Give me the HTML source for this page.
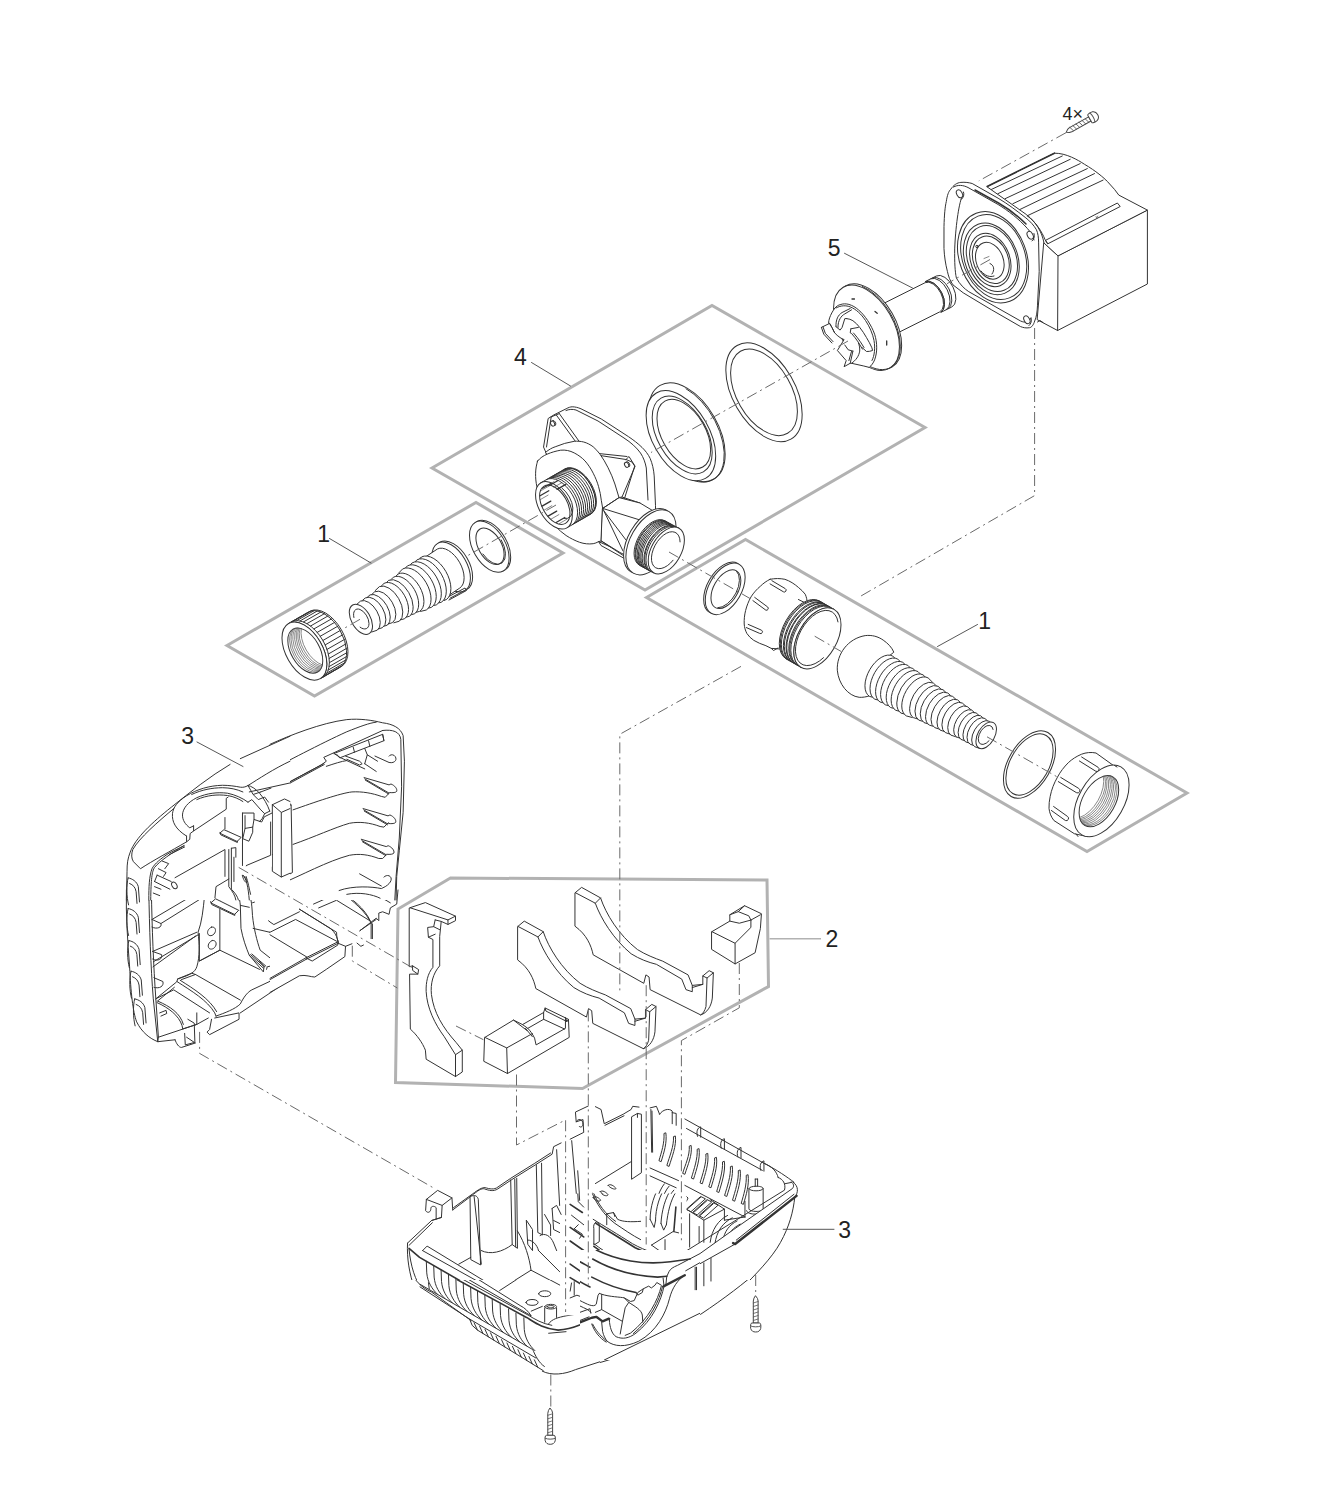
<!DOCTYPE html>
<html><head><meta charset="utf-8"><title>Exploded view</title>
<style>
html,body{margin:0;padding:0;background:#fff}
svg{display:block}
text{font-family:"Liberation Sans",sans-serif;fill:#222}
.k{fill:none;stroke:#333;stroke-width:1;stroke-linecap:round;stroke-linejoin:round}
.kf{fill:#fff;stroke:#333;stroke-width:1;stroke-linecap:round;stroke-linejoin:round}
.t{fill:none;stroke:#555;stroke-width:.7;stroke-linecap:round;stroke-linejoin:round}
.g{fill:none;stroke:#b2b2b2;stroke-width:3;stroke-linejoin:miter}
.d{fill:none;stroke:#6a6a6a;stroke-width:1;stroke-dasharray:11 4 2 4}
.w{fill:#fff;stroke:none}
</style></head><body>
<svg width="1328" height="1509" viewBox="0 0 1328 1509">
<rect class="w" width="1328" height="1509"/>
<!-- group frames -->
<g class="g">
<path d="M432 468 L712 305.5 L925 427.5 L645 590 Z"/>
<path d="M227 645.5 L476 502.5 L563 553 L314.5 696 Z"/>
<path d="M646.5 597.5 L745.5 539.5 L1187 793 L1087 851.5 Z"/>
<path d="M450.5 878 L767 880 L768.5 986.5 L582.5 1088.5 L395.5 1082.5 L398 909 Z"/>
</g>

<!-- motor block -->
<g id="motor">
<!-- box part -->
<path class="kf" d="M1044 243 L1058 255.9 L1147.4 210.1 L1147.4 284 L1057.6 330.5 L1037.5 319.8 Z"/>
<path class="k" d="M1058 255.9 L1057.6 330.5"/>
<path class="t" d="M1061.6 252.3 L1140.3 212.3"/>
<!-- ribbed cylinder top -->
<path class="kf" d="M987.2 186.5 L1054.4 153.2 C1066 153 1078 160 1084.5 164.3 C1096 171 1104 178 1107.4 181.5 L1114.5 189.4 L1118.8 195.1 L1147.4 210.1 L1058 255.9 L1044 243 C1042 232 1036 222 1027 215 Z"/>
<path class="k" style="stroke-width:1.6" d="M987.2 186.5 L1054.4 153.2"/>
<path class="k" d="M991.5 189.4 L1062.3 156 M997.9 193.7 L1070.2 159.3 M1005.1 198.7 L1080.2 163.6 M1012.9 203.7 L1087.3 168.6 M1020.1 209.4 L1094.5 173.6 M1027.2 215.8 L1103.1 180.1"/>
<path class="k" d="M1027.2 215.8 C1036 222 1042 232 1045 239.5 L1047.6 243.5"/>
<path class="k" d="M1045.8 240.2 L1117.4 203 L1120.2 206.5 L1048 243.7 Z"/>
<path class="t" d="M1096 216.5 l.8 2 l1 -2.4"/>
<!-- flange -->
<path class="kf" d="M944 226.3 C944.3 215 945 207 946.3 201.5 C947.3 195 948.5 191.5 950.8 189.2 C953.5 185.2 957 182.6 960.9 182.4 C965 182 969 182.6 972.2 183.5 L998.1 198.2 C1008 204 1017 211 1025.1 217.3 C1030 221 1034 225.5 1036.4 229.7 C1038 233 1038.6 238 1038.6 242.1 L1039.2 271.4 L1037.5 305.2 C1037.2 312 1036.5 317 1034.7 321 C1033.5 325 1031.5 327.5 1029.6 327.7 C1026 328.3 1023 327.6 1020.6 326.6 L991.3 309.7 L963.2 292.8 L953 284.9 C950 281 948.4 276 947.4 271.4 C945.5 264 944.3 256 944 248.9 Z"/>
<path class="k" d="M962 196.5 C958.5 205 955.5 228 954.7 248.9 C954.5 262 955 272 956.4 278.1 C960 284.5 964 288.5 968.8 291.7 L1020.6 321 C1025 323 1029 322.5 1031 318"/>
<path class="k" d="M953.5 187 C958 184.5 963 185 968 187.5 L998.1 204.5 C1008 210.5 1019 219 1027.4 228.5 C1031 232.5 1033 236 1034 240"/>
<path class="k" style="stroke-width:1.5" d="M975 190 L998.5 203 C1008 208.5 1018 216 1026 224"/>
<!-- screw holes -->
<g class="kf">
<ellipse cx="959.5" cy="193.8" rx="2.7" ry="4.2" transform="rotate(-30 959.5 193.8)"/>
<ellipse cx="1030.2" cy="235.3" rx="2.7" ry="4.2" transform="rotate(-30 1030.2 235.3)"/>
<ellipse cx="1026.9" cy="319.8" rx="2.7" ry="4.2" transform="rotate(-30 1026.9 319.8)"/>
</g>
<path class="k" d="M963.5 192 C964.5 194.5 963.5 197.5 961.5 199.3 M1034 233.5 C1035 236.5 1034 239.500 1032 241 M1031 318 C1032 321 1031 324 1029 325.6"/>
<!-- concentric rings -->
<g class="k">
<ellipse cx="993" cy="257.3" rx="33.4" ry="47.1" transform="rotate(-21 993 257.3)"/>
<ellipse cx="993.7" cy="257" rx="31.1" ry="43.8" transform="rotate(-21 993.7 257)"/>
<ellipse cx="991.3" cy="258.8" rx="26.3" ry="37.0" transform="rotate(-21 991.3 258.8)"/>
<ellipse cx="991.9" cy="258.6" rx="24.1" ry="34.0" transform="rotate(-21 991.9 258.6)"/>
<ellipse cx="990.3" cy="260" rx="19.5" ry="27.5" transform="rotate(-21 990.3 260)"/>
<ellipse cx="990.8" cy="259.8" rx="17.4" ry="24.5" transform="rotate(-21 990.8 259.8)"/>
<ellipse cx="989.8" cy="260.8" rx="13.5" ry="19.0" transform="rotate(-21 989.8 260.8)"/>
</g>
<path class="k" d="M981 271 C985 276 990 277.5 994 276 M990 263.5 C994 265 995 270 992 274"/>
<circle cx="977" cy="246.500" r="1.2" class="k"/>
<path class="t" d="M984 258.500 L989 256.500"/>
<path class="k" d="M1037.500 322 L1040 320.5 L1043 322.5"/>
</g>

<g id="oring4">
<ellipse class="kf" cx="764.0" cy="392.3" rx="54.0" ry="31.2" transform="rotate(60.1 764.0 392.3)"/>
<ellipse class="kf" cx="764.0" cy="392.3" rx="47.3" ry="27.3" transform="rotate(60.1 764.0 392.3)"/>
</g>
<g id="seal">
<ellipse class="kf" cx="687.0" cy="432.2" rx="54.0" ry="31.2" transform="rotate(60.1 687.0 432.2)"/>
<path class="k" d="M674.1 467.9A54.0 31.2 60.1 1 0 686.0 388.7"/>
<ellipse class="kf" cx="680.9" cy="435.7" rx="49.3" ry="28.4" transform="rotate(60.1 680.9 435.7)"/>
<ellipse class="k" cx="682.2" cy="435.0" rx="42.5" ry="24.5" transform="rotate(60.1 682.2 435.0)"/>
<ellipse class="k" cx="683.8" cy="434.1" rx="38.0" ry="21.9" transform="rotate(60.1 683.8 434.1)"/>
</g>
<g id="rotor">
<path class="kf" d="M866.1 312.2 L925.1 282.7A16.3 9.4 63.4 0 1 939.7 311.9L880.7 341.4A16.3 9.4 63.4 0 0 866.1 312.2Z"/>
<path class="kf" d="M925.6 281.4 L936.3 276.0A17.3 10.0 63.4 0 1 951.8 307.0L941.0 312.3A17.3 10.0 63.4 0 0 925.6 281.4Z"/>
<path class="k" d="M941.0 312.3A17.3 10.0 63.4 0 0 925.6 281.4"/>
<path class="k" d="M946.4 309.6A17.3 10.0 63.4 0 0 930.9 278.7"/>
<path class="k" d="M948.2 308.7A17.3 10.0 63.4 0 0 932.7 277.8"/>
<path class="k" d="M890.3 340.4A24.0 13.8 60.1 0 0 881.9 308.6"/>
<path class="k" d="M890.1 337.2A21.0 12.1 60.1 0 0 882.8 309.4"/>
<ellipse class="kf" cx="868.7" cy="326.5" rx="46.7" ry="26.9" transform="rotate(60.1 868.7 326.5)"/>
<ellipse class="kf" cx="866.5" cy="327.7" rx="46.7" ry="26.9" transform="rotate(60.1 866.5 327.7)"/>
<path class="k" d="M862.3 361.8A46.7 26.9 60.1 1 0 862.4 286.5"/>
<path class="k" d="M852 299 l2.5 0 M875 311.5 l2.2 1.8 M886.7 341 l0 4" style="stroke-width:1.3"/>
<path class="kf" d="M834.6 308.5 C836.5 306 838.5 305 840.1 304.7 C843 303.6 846 303.6 848.9 304.4 C852.5 305.5 855.5 307.3 858.4 309.8 C862 312.800 865 316.5 867.8 320.7 C870.5 325 873 329.500 874.6 334.2 C876 338.5 876.7 343 876.7 347.8 C876.7 352 876 356 874.6 359.9 C873.3 363 871.5 365.5 869.2 367.4 L863.8 366 L851.6 363.3 L850.2 363.3 L844.1 366.7 L846.2 360.6 L837.4 350.5 L844.1 339.6 C842.500 339 841.200 338.3 840.1 337.6 C838 336.2 836.2 334.6 834.6 332.8 L831.9 327.4 L829.6 323.4 L828.6 323.4 C828.600 321.5 829 319.6 829.6 317.9 C830.8 314.500 832.5 311.300 834.6 308.500Z"/>
<path class="k" d="M836.4 307.8 C841 305.3 846 305.2 850.5 307 C856 309.3 861 313.8 865.500 320.5 C869.5 326.5 872.7 333.5 874 340.5 C875.3 348 874.6 355.5 872 360.5"/>
<path class="k" d="M821.4 327.4 L829.6 323.4 L831.9 327.4 L834.6 332.8 M821.4 327.4 L823.8 334.2 L831.9 343 M823 326.8 L825.3 333.3 L833 341.6"/>
<path class="k" d="M836 326.7 C835.8 323.5 836.3 320.5 837.4 317.9 C838.5 315.500 840 313.800 842.1 312.5 L850.2 308.5 M838 327.4 C837.8 324 838.800 320.800 840.1 318.6 C841.200 316.500 842.800 315 844.8 313.9 L851.6 309.8 M836 326.700 L840.100 330.100 L842.100 327.400 L844.800 318.600 L846.800 318.600"/>
<path class="k" d="M846.8 318.6 C849 318.800 851 319.500 852.9 320.7 C855.5 322.500 857.7 324.8 859.7 327.4 C862.2 330.5 864.5 334 866.5 337.6 C868.5 341 870.500 344.500 871.9 347.8 L872.6 350.5 C870.500 351.3 868.5 351.600 866.5 351.5 L862.4 347.8"/>
<path class="k" d="M850.9 328.8 L858.4 327.4 M850.9 328.8 L850.2 332.800 L851.6 333.5 C854 336.300 856.300 339.2 858.4 342.3 L862.4 349.1 M853.5 333 C856 335.800 858.300 338.700 860.300 341.700 L864 347.5"/>
<path class="k" d="M858.4 343 C859.5 345.500 859.900 348.300 859.7 351.1 C859.300 353.500 858.400 355.800 857 357.9 C855.5 360 853.700 361.800 851.6 363.3 M852.9 351.1 L850.2 363.3 M844.8 345 L848.2 349.8 L852.9 351.1 M851.500 351.500 L848.9 360.6"/>
</g>
<g id="pump">
<path class="kf" d="M548.5 418.3 L553.9 414.9 L566.1 408.8 C568.5 407.500 570.500 406.8 572.2 406.8 C575 406.8 578 407.500 581 408.8 L601.3 419 L628.4 436.6 C633.500 440 638 443.500 642 447.4 C645.500 450.800 648.2 454.400 650.1 458.3 C652.300 463.500 653.700 469.500 654.2 475.9 L655.5 505.7 L655.500 520 L620 545 L598.6 541.6 L545.8 452.2 L543.7 447.4 Z"/>
<path class="k" d="M551.2 416.9 L546.5 447 M559.3 413.6 L579.6 442 M556.300 415 L575.500 441.500 M551.200 416.900 L559.300 413.600"/>
<path class="k" d="M566 410.5 C569 409.2 572.500 409 576 410 L598 421 L624 438 C631 442.500 636.500 447.500 640.500 453 C643.500 457.500 645.300 462.500 646.300 468 L648 500"/>
<path class="k" d="M600 455.500 L626 459.5 L632 462 L635 466.5 L622 497 M626 459.500 L629 456.5 L634.800 465.800 L624.500 498.500 M619 497.6 L622 497 L640 503 M600 455.500 L598.500 453.500 L627 456.500"/>
<ellipse class="kf" cx="552.6" cy="423.6" rx="2.7" ry="1.9" transform="rotate(60.1 552.6 423.6)"/>
<path class="k" d="M555.5 425.3A3.0 2.2 60.1 0 0 552.7 420.4"/>
<ellipse class="kf" cx="626.6" cy="464.8" rx="2.7" ry="1.9" transform="rotate(60.1 626.6 464.8)"/>
<path class="k" d="M629.5 466.5A3.0 2.2 60.1 0 0 626.7 461.6"/>
<path class="kf" d="M545.8 452.2 C549 449.500 552 447.800 555.2 446.8 L564.7 443.4 L574.2 441.3 C577.500 441 580.700 441.300 583.7 442 C587.300 443 590.400 444.700 593.2 446.8 C595.800 449 598 451.500 600 454.2 C603 458.500 605.800 463 608.1 467.8 C610.800 473 613 478.500 614.9 484 L619 497.6 L640.500 503.500 L655 520 L640 560 L598.6 541.6 Z"/>
<path class="kf" d="M537.6 461 C540 458 543.500 455.700 547.1 454.2 C551.500 452.300 556 451 560.7 450.2 C565.300 449.700 570 450.700 574.2 452.9 C578.300 455 582 457.700 585.1 461 C588.300 464.700 591 468.800 593.2 473.2 C595.400 477.500 597.300 482 598.6 486.7 C599.900 491.200 600.800 495.700 601.3 500.3 L602.7 508.4 L601.3 541 L598.6 541.6 C596.800 542.700 595 543.400 593.2 543.7 C588.700 544.300 584.100 543.800 579.6 542.3 C574.900 540.600 570.400 538.300 566.1 535.5 C562.200 532.800 558.500 529.600 555.2 526 C552.200 522.700 549.500 519.100 547.1 515.2 C545 511.300 543.200 507.200 541.7 503 C539.700 497.700 538.100 492.300 536.9 486.7 C535.900 482.200 535.500 477.700 535.6 473.2 C535.700 469 536.400 464.900 537.6 461Z"/>
<path class="kf" d="M602.7 508.4 L619 497.6 L640 503 L655 512 L630 560 L601.3 541 Z"/>
<path class="k" d="M602.7 508.4 L640 520 L655 512 M602.7 508.4 L623 551 M604 511 L626 540 M619 497.600 L602.700 508.400"/>
<path class="k" d="M601.3 541 L620 552.500 L630 557.500 M598.6 541.6 L601 545.500 L628 560.500"/>
<path class="kf" d="M540.9 482.8 L564.3 469.3A26.0 15.0 60.1 0 1 590.3 514.4L566.9 527.8A26.0 15.0 60.1 0 0 540.9 482.8Z"/>
<path class="k" d="M572.3 524.7A26.0 15.0 60.1 0 0 546.4 479.6"/>
<path class="k" d="M574.3 523.6A26.0 15.0 60.1 0 0 548.4 478.5"/>
<path class="k" d="M576.3 522.4A26.0 15.0 60.1 0 0 550.4 477.3"/>
<path class="k" d="M578.3 521.3A26.0 15.0 60.1 0 0 552.4 476.2"/>
<path class="k" d="M580.3 520.1A26.0 15.0 60.1 0 0 554.4 475.0"/>
<path class="k" d="M582.3 519.0A26.0 15.0 60.1 0 0 556.4 473.9"/>
<path class="k" d="M584.3 517.8A26.0 15.0 60.1 0 0 558.4 472.7"/>
<path class="k" d="M586.3 516.7A26.0 15.0 60.1 0 0 560.4 471.6"/>
<path class="k" d="M588.3 515.5A26.0 15.0 60.1 0 0 562.4 470.4"/>
<path class="k" d="M590.3 514.4A26.0 15.0 60.1 0 0 564.3 469.3"/>
<path class="k" d="M591.1 513.9A26.0 15.0 60.1 0 0 565.2 468.8"/>
<ellipse class="kf" cx="553.9" cy="505.3" rx="26.0" ry="15.0" transform="rotate(60.1 553.9 505.3)"/>
<ellipse class="k" cx="554.8" cy="504.8" rx="21.5" ry="12.4" transform="rotate(60.1 554.8 504.8)"/>
<path class="k" d="M564.0 518.5A18.5 10.7 60.1 0 0 562.0 488.1"/>
<path class="k" d="M557.1 489.4 L565.8 484.4" style="stroke-width:1.3"/>
<path class="t" d="M553.9 487.3 L561.7 482.8"/>
<path class="k" d="M549.0 485.8 L557.6 480.8" style="stroke-width:1.3"/>
<path class="t" d="M546.2 486.1 L554.0 481.6"/>
<path class="k" d="M542.6 488.2 L551.3 483.2" style="stroke-width:1.3"/>
<path class="t" d="M541.1 490.6 L548.9 486.1"/>
<path class="k" d="M540.1 495.8 L548.8 490.8" style="stroke-width:1.3"/>
<path class="t" d="M540.3 499.6 L548.1 495.1"/>
<path class="k" d="M542.1 506.1 L550.8 501.1" style="stroke-width:1.3"/>
<path class="t" d="M544.0 510.2 L551.8 505.7"/>
<path class="k" d="M548.1 516.1 L556.7 511.1" style="stroke-width:1.3"/>
<path class="t" d="M551.1 519.1 L558.9 514.6"/>
<path class="k" d="M556.1 522.5 L564.8 517.5" style="stroke-width:1.3"/>
<path class="t" d="M559.3 523.6 L567.1 519.1"/>
</g>
<g id="washerL">
<ellipse class="kf" cx="490.9" cy="545.8" rx="28.0" ry="16.2" transform="rotate(60.1 490.9 545.8)"/>
<ellipse class="kf" cx="489.3" cy="546.7" rx="28.0" ry="16.2" transform="rotate(60.1 489.3 546.7)"/>
<ellipse class="k" cx="490.0" cy="546.3" rx="20.0" ry="11.5" transform="rotate(60.1 490.0 546.3)"/>
<path class="k" d="M482.9 554.0A20.0 11.5 60.1 0 0 501.2 539.9"/>
</g>
<g id="tailL">
<ellipse class="kf" cx="453.4" cy="565.8" rx="27.2" ry="15.7" transform="rotate(60.1 453.4 565.8)"/>
<ellipse class="kf" cx="451.2" cy="567.0" rx="27.2" ry="15.7" transform="rotate(60.1 451.2 567.0)"/>
<path class="kf" d="M422.7 558.8 L437.4 549.0A22.5 13.0 60.1 0 1 459.8 588.0L445.1 597.8A22.5 13.0 60.1 0 0 422.7 558.8Z"/>
<path class="k" d="M447 597.500 L465 588 L466.500 590.500 L449 600 M450 598.200 L464 590.800"/>
<path class="k" d="M444.4 600.5A24.5 14.1 60.1 0 0 420.0 558.1"/>
<path class="kf" d="M417.6 561.2 L421.6 556.9A24.7 14.3 60.1 0 1 446.2 599.7 L440.5 601.0"/>
<path class="kf" d="M412.9 564.2 L416.9 559.9A24.4 14.1 60.1 0 1 441.2 602.3 L435.5 603.6"/>
<path class="kf" d="M408.1 567.2 L412.1 562.9A24.2 14.0 60.1 0 1 436.3 604.9 L430.6 606.2"/>
<path class="kf" d="M403.4 570.1 L407.4 565.9A23.9 13.8 60.1 0 1 431.3 607.4 L425.6 608.8"/>
<path class="kf" d="M398.6 573.1 L402.7 568.9A23.7 13.7 60.1 0 1 426.3 610.0 L420.6 611.4"/>
<path class="kf" d="M393.9 578.2 L398.0 574.1A21.5 12.4 60.1 0 1 419.5 611.4 L413.9 612.9"/>
<path class="kf" d="M389.3 581.3 L393.4 577.2A21.1 12.2 60.1 0 1 414.4 613.8 L408.8 615.4"/>
<path class="kf" d="M384.6 584.4 L388.7 580.3A20.8 12.0 60.1 0 1 409.4 616.3 L403.8 617.8"/>
<path class="kf" d="M379.9 587.5 L384.0 583.4A20.4 11.8 60.1 0 1 404.3 618.8 L398.8 620.3"/>
<path class="kf" d="M375.2 590.6 L379.4 586.6A20.0 11.5 60.1 0 1 399.3 621.2 L393.8 622.8"/>
<path class="kf" d="M370.4 595.7 L374.7 591.8A17.8 10.3 60.1 0 1 392.5 622.6 L387.0 624.4"/>
<path class="kf" d="M365.7 598.7 L370.0 594.9A17.5 10.1 60.1 0 1 387.4 625.1 L381.9 626.9"/>
<path class="kf" d="M360.9 601.8 L365.2 598.0A17.1 9.9 60.1 0 1 382.3 627.7 L376.8 629.5"/>
<path class="kf" d="M356.2 604.9 L360.5 601.1A16.8 9.7 60.1 0 1 377.2 630.2 L371.8 632.0"/>
<ellipse class="kf" cx="360.9" cy="619.3" rx="16.5" ry="9.5" transform="rotate(60.1 360.9 619.3)"/>
<path class="k" d="M360.1 627.2A11.0 6.3 60.1 1 0 353.9 617.5"/>
</g>
<g id="nutL">
<path class="kf" d="M288.5 623.5 L310.2 611.1A31.8 18.3 60.1 0 1 341.9 666.2L320.3 678.7A31.8 18.3 60.1 0 0 288.5 623.5Z"/>
<path class="k" d="M342.5 665.4A31.8 18.3 60.1 0 0 311.2 611.0"/>
<path class="k" d="M322.9 677.2 L340.2 667.2"/>
<path class="k" d="M325.1 675.4 L342.5 665.4"/>
<path class="k" d="M327.0 673.0 L344.3 663.0"/>
<path class="k" d="M328.3 670.0 L345.7 660.0"/>
<path class="k" d="M329.2 666.5 L346.5 656.6"/>
<path class="k" d="M329.5 662.6 L346.8 652.7"/>
<path class="k" d="M329.2 658.4 L346.5 648.4"/>
<path class="k" d="M328.4 654.0 L345.7 644.0"/>
<path class="k" d="M327.0 649.4 L344.4 639.5"/>
<path class="k" d="M325.2 644.9 L342.5 634.9"/>
<path class="k" d="M322.9 640.5 L340.2 630.5"/>
<path class="k" d="M320.2 636.3 L337.6 626.3"/>
<path class="k" d="M317.2 632.4 L334.6 622.4"/>
<path class="k" d="M314.0 628.9 L331.3 619.0"/>
<path class="k" d="M310.6 626.0 L327.9 616.0"/>
<path class="k" d="M307.0 623.6 L324.4 613.7"/>
<path class="k" d="M303.5 621.9 L320.9 612.0"/>
<path class="k" d="M300.1 620.9 L317.4 610.9"/>
<path class="k" d="M296.8 620.6 L314.2 610.6"/>
<path class="k" d="M293.8 620.9 L311.2 611.0"/>
<path class="k" d="M291.1 622.0 L308.5 612.1"/>
<ellipse class="kf" cx="304.4" cy="651.1" rx="31.8" ry="18.3" transform="rotate(60.1 304.4 651.1)"/>
<path class="k" d="M322.9 677.2A31.8 18.3 60.1 0 0 291.1 622.0"/>
<ellipse class="kf" cx="305.3" cy="650.6" rx="24.7" ry="14.3" transform="rotate(60.1 305.3 650.6)"/>
<path class="t" d="M318.4 671.5A24.7 14.3 60.1 0 1 293.8 628.8"/>
<path class="t" d="M319.1 670.9A24.7 14.3 60.1 0 1 294.7 628.4"/>
<path class="t" d="M319.8 670.2A24.7 14.3 60.1 0 1 295.7 628.2"/>
<path class="t" d="M320.4 669.3A24.7 14.3 60.1 0 1 296.7 628.1"/>
<path class="t" d="M321.0 668.4A24.7 14.3 60.1 0 1 297.8 628.0"/>
<path class="t" d="M321.5 667.4A24.7 14.3 60.1 0 1 298.9 628.1"/>
<path class="t" d="M321.9 666.2A24.7 14.3 60.1 0 1 300.1 628.3"/>
<path class="t" d="M322.3 664.9A24.7 14.3 60.1 0 1 301.4 628.7"/>
</g>

<g id="outlet">
<ellipse class="kf" cx="648.7" cy="541.0" rx="35.6" ry="20.5" transform="rotate(119.9 648.7 541.0)"/>
<ellipse class="kf" cx="651.0" cy="542.3" rx="35.6" ry="20.5" transform="rotate(119.9 651.0 542.3)"/>
<path class="kf" d="M679.0 528.3 L664.9 520.8A25.6 14.8 119.9 0 0 639.4 565.2L653.6 572.7A25.6 14.8 119.9 0 1 679.0 528.3Z"/>
<path class="k" d="M639.9 565.4A25.6 14.8 119.9 0 1 665.3 521.0"/>
<path class="k" d="M641.1 566.2A25.6 14.8 119.9 0 1 666.6 521.8"/>
<path class="k" d="M642.4 566.9A25.6 14.8 119.9 0 1 667.9 522.5"/>
<path class="k" d="M643.6 567.6A25.6 14.8 119.9 0 1 669.1 523.2"/>
<path class="k" d="M644.9 568.3A25.6 14.8 119.9 0 1 670.4 523.9"/>
<path class="k" d="M646.1 569.1A25.6 14.8 119.9 0 1 671.6 524.6"/>
<path class="k" d="M647.4 569.8A25.6 14.8 119.9 0 1 672.9 525.4"/>
<path class="k" d="M648.7 570.5A25.6 14.8 119.9 0 1 674.1 526.1"/>
<path class="k" d="M649.9 571.2A25.6 14.8 119.9 0 1 675.4 526.8"/>
<path class="k" d="M651.2 571.9A25.6 14.8 119.9 0 1 676.7 527.5"/>
<ellipse class="kf" cx="666.3" cy="550.5" rx="25.6" ry="14.8" transform="rotate(119.9 666.3 550.5)"/>
<path class="k" d="M673.1 560.2A20.3 11.7 119.9 1 1 680.1 541.9"/>
</g>
<g id="washerR">
<ellipse class="kf" cx="723.6" cy="587.9" rx="28.2" ry="16.3" transform="rotate(119.9 723.6 587.9)"/>
<ellipse class="kf" cx="725.2" cy="588.8" rx="28.2" ry="16.3" transform="rotate(119.9 725.2 588.8)"/>
<ellipse class="k" cx="725.9" cy="589.2" rx="21.2" ry="12.2" transform="rotate(119.9 725.9 589.2)"/>
<path class="k" d="M717.7 607.8A21.2 12.2 119.9 0 0 736.6 571.2"/>
</g>
<g id="union">
<path class="kf" d="M770 579.3 C775 578.300 780 578.300 784.9 579.3 C790 581 794.5 584 798.4 587.4 C801 589.5 803.3 591.800 805.2 594.2 C806.5 597 807.2 600.300 807.2 603.7 L803 640 L782.2 649.1 L771.3 648.4 L765.9 645.7 C761.5 644.300 757.500 642.500 753.7 640.3 C751 638.500 748.700 636.200 746.9 633.5 C745.300 630.500 744.400 627.300 744.2 624 C744 619.500 744.5 615 745.6 610.5 C746.800 605.700 748.600 601.200 751 596.9 C753.600 592.800 756.800 589.200 760.5 586.1 C763.400 583.300 766.500 581 770 579.300Z"/>
<path class="k" d="M798.4 599.5 L806.500 603.500 M771.3 648.4 L773.500 650.500 L778 648"/>
<path class="k" d="M771.9 580.7 L785.2 588.6 A1.8 1.8 0 0 1 783.4 591.8 L770.1 583.9"/>
<path class="k" d="M754.7 597.4 L767.7 607.0 A1.9 1.9 0 0 1 765.9 610.2 L752.9 600.6"/>
<path class="k" d="M748.2 624.4 L761.5 630.2 A1.8 1.8 0 0 1 759.7 633.4 L746.4 627.6"/>
<path class="kf" d="M834.0 609.3 L819.3 600.9A33.4 19.3 119.9 0 0 786.0 658.8L800.8 667.3A33.4 19.3 119.9 0 1 834.0 609.3Z"/>
<path class="k" d="M786.9 659.3A33.4 19.3 119.9 0 1 820.2 601.4"/>
<path class="k" d="M788.2 660.1A33.4 19.3 119.9 0 1 821.5 602.1"/>
<path class="k" d="M789.6 660.8A33.4 19.3 119.9 0 1 822.8 602.9"/>
<path class="k" d="M790.9 661.6A33.4 19.3 119.9 0 1 824.2 603.7"/>
<path class="k" d="M792.3 662.4A33.4 19.3 119.9 0 1 825.5 604.5"/>
<path class="k" d="M793.6 663.2A33.4 19.3 119.9 0 1 826.9 605.2"/>
<path class="k" d="M795.0 663.9A33.4 19.3 119.9 0 1 828.2 606.0"/>
<path class="k" d="M796.3 664.7A33.4 19.3 119.9 0 1 829.6 606.8"/>
<path class="k" d="M797.7 665.5A33.4 19.3 119.9 0 1 830.9 607.5"/>
<ellipse class="kf" cx="817.4" cy="638.3" rx="33.4" ry="19.3" transform="rotate(119.9 817.4 638.3)"/>
<path class="k" d="M823.5 657.7A30.3 17.5 119.9 1 1 838.0 621.9"/>
</g>
<g id="tailR">
<path class="kf" d="M869.7 695.8 C866 697 862.5 697.5 859.2 697.3 C848 696 838.5 684 837.3 670.2 C836.5 654 848 638.5 865.2 635.6 C872 634.8 878 636.5 883.2 640.1 C888 643.5 892 647.5 893.8 652.2 L889.3 655.9 L880 677 Z"/>
<path class="kf" d="M897.0 660.4 L892.7 656.0A23.3 13.4 119.9 0 0 869.5 696.4 L875.5 698.0"/>
<path class="kf" d="M902.1 663.5 L897.8 659.1A23.1 13.3 119.9 0 0 874.8 699.2 L880.7 700.7"/>
<path class="kf" d="M907.2 666.6 L902.8 662.3A22.9 13.2 119.9 0 0 880.0 702.0 L886.0 703.5"/>
<path class="kf" d="M912.2 669.7 L907.9 665.4A22.7 13.1 119.9 0 0 885.3 704.8 L891.2 706.3"/>
<path class="kf" d="M917.3 672.8 L912.9 668.5A22.5 13.0 119.9 0 0 890.5 707.5 L896.5 709.1"/>
<path class="kf" d="M922.4 676.0 L918.0 671.6A22.3 12.9 119.9 0 0 895.8 710.3 L901.7 711.9"/>
<path class="kf" d="M927.4 679.1 L923.0 674.8A22.1 12.8 119.9 0 0 901.0 713.1 L907.0 714.7"/>
<path class="kf" d="M932.5 682.2 L928.1 677.9A21.9 12.6 119.9 0 0 906.3 715.9 L912.2 717.5"/>
<path class="kf" d="M937.7 687.1 L933.3 683.0A20.0 11.5 119.9 0 0 913.3 717.6 L919.1 719.4"/>
<path class="kf" d="M942.5 690.4 L938.1 686.3A19.5 11.3 119.9 0 0 918.7 720.1 L924.5 721.9"/>
<path class="kf" d="M947.4 693.8 L943.0 689.7A19.0 11.0 119.9 0 0 924.0 722.6 L929.8 724.4"/>
<path class="kf" d="M952.3 697.1 L947.8 693.0A18.5 10.7 119.9 0 0 929.4 725.1 L935.1 726.9"/>
<path class="kf" d="M957.1 700.4 L952.7 696.4A18.0 10.4 119.9 0 0 934.7 727.6 L940.5 729.5"/>
<path class="kf" d="M962.0 703.8 L957.5 699.8A17.5 10.1 119.9 0 0 940.1 730.1 L945.8 732.0"/>
<path class="kf" d="M966.9 707.1 L962.4 703.1A17.0 9.8 119.9 0 0 945.4 732.6 L951.1 734.5"/>
<path class="kf" d="M971.7 710.4 L967.2 706.5A16.5 9.5 119.9 0 0 950.8 735.1 L956.5 737.0"/>
<path class="kf" d="M975.7 713.6 L971.7 710.1A15.5 8.9 119.9 0 0 956.3 736.9 L961.3 738.6"/>
<path class="kf" d="M980.1 716.4 L976.1 712.9A15.3 8.8 119.9 0 0 960.9 739.4 L965.9 741.1"/>
<path class="kf" d="M984.5 719.2 L980.5 715.7A15.1 8.7 119.9 0 0 965.5 741.8 L970.5 743.5"/>
<path class="kf" d="M988.9 722.0 L984.9 718.5A14.8 8.6 119.9 0 0 970.1 744.2 L975.1 746.0"/>
<path class="kf" d="M993.3 724.8 L989.3 721.3A14.6 8.4 119.9 0 0 974.7 746.7 L979.7 748.4"/>
<ellipse class="kf" cx="986.2" cy="735.3" rx="14.6" ry="8.4" transform="rotate(119.9 986.2 735.3)"/>
<path class="k" d="M989.1 740.7A10.5 6.1 119.9 1 1 993.1 729.5"/>
</g>
<g id="oringR">
<ellipse class="kf" cx="1029.5" cy="764.5" rx="36.9" ry="21.3" transform="rotate(119.9 1029.5 764.5)"/>
<ellipse class="kf" cx="1029.5" cy="764.5" rx="33.5" ry="19.3" transform="rotate(119.9 1029.5 764.5)"/>
</g>
<g id="nutR">
<path class="kf" d="M1121.3 771.1 L1096 753 C1091 752 1086 752.500 1081.6 754.2 C1076.500 756.300 1072 759.200 1068.3 762.7 C1064 767 1060.300 771.800 1057.5 777.1 C1054 783.200 1051.500 789.600 1050.2 796.4 C1049.300 800.400 1048.900 804.400 1049 808.4 C1049.500 813 1051.200 817 1053.9 820.5 L1074.3 833.7 L1087.6 836.7 L1110 810 L1118 785 Z"/>
<path class="k" d="M1081.6 757.0 L1098.1 767.3 A2.3 2.3 0 0 1 1095.9 771.3 L1079.4 761.0"/>
<path class="k" d="M1060.7 777.4 L1078.7 788.4 A2.4 2.4 0 0 1 1076.3 792.6 L1058.3 781.6"/>
<path class="k" d="M1053.6 806.5 L1067.6 816.5 A2.3 2.3 0 0 1 1065.4 820.5 L1051.4 810.5"/>
<ellipse class="kf" cx="1101.4" cy="800.9" rx="39.2" ry="22.6" transform="rotate(119.9 1101.4 800.9)"/>
<path class="k" d="M1114.500 765.500 l2.500 1.500 M1076 834 l2 2.500"/>
<ellipse class="kf" cx="1098.9" cy="801.2" rx="28.0" ry="16.2" transform="rotate(119.9 1098.9 801.2)"/>
<path class="t" d="M1084.2 825.0A28.0 16.2 119.9 0 0 1112.0 776.5"/>
<path class="t" d="M1083.4 824.4A28.0 16.2 119.9 0 0 1111.1 776.1"/>
<path class="t" d="M1082.7 823.7A28.0 16.2 119.9 0 0 1110.1 775.9"/>
<path class="t" d="M1082.1 822.9A28.0 16.2 119.9 0 0 1109.2 775.7"/>
<path class="t" d="M1081.5 822.0A28.0 16.2 119.9 0 0 1108.1 775.6"/>
<path class="t" d="M1080.9 821.1A28.0 16.2 119.9 0 0 1107.0 775.6"/>
<path class="t" d="M1080.4 820.0A28.0 16.2 119.9 0 0 1105.8 775.8"/>
<path class="t" d="M1080.0 818.8A28.0 16.2 119.9 0 0 1104.6 776.0"/>
<path class="t" d="M1079.7 817.5A28.0 16.2 119.9 0 0 1103.3 776.3"/>
</g>

<g id="housingL">
<g transform="translate(120 890) scale(0.12801)">
<path class="w" vector-effect="non-scaling-stroke" d="M50 0 L1328 0 L1328 640 L930 960 L930 1010 L700 1130 L590 1190 L480 1230 L430 1170 L300 1185 C200 1140 120 1050 100 900 L60 500 Z"/>
<path class="k" vector-effect="non-scaling-stroke" d="M50 0 C45 200 60 400 75 600 C85 800 100 950 130 1030 C170 1110 230 1160 295 1185"/>
<path class="k" vector-effect="non-scaling-stroke" d="M225 0 C230 300 240 600 260 850 L295 1185"/>
<path class="k" vector-effect="non-scaling-stroke" d="M245 0 C250 300 262 600 280 850 L300 1150 L600 1050"/>
<path class="k" vector-effect="non-scaling-stroke" d="M250 40 C290 60 330 40 320 20 M250 290 C290 310 330 290 320 262 L250 230"/>
<path class="k" vector-effect="non-scaling-stroke" d="M255 540 C295 560 335 540 325 505 L255 480 M265 760 C310 775 345 750 335 715 L265 685"/>
<path class="k" vector-effect="non-scaling-stroke" d="M250 230 L640 0 M320 262 L660 50"/>
<path class="k" vector-effect="non-scaling-stroke" d="M255 480 L600 330 M262 560 L610 350 M258 600 L590 360"/>
<path class="k" vector-effect="non-scaling-stroke" d="M280 850 L440 720 M290 870 L425 760"/>
<path class="k" vector-effect="non-scaling-stroke" d="M660 50 C650 150 640 250 610 330 C620 420 625 520 600 600 C585 640 560 660 450 695 L445 715"/>
<path class="k" vector-effect="non-scaling-stroke" d="M620 340 L620 555 L780 470 L780 0 M760 0 L765 90"/>
<path class="k" vector-effect="non-scaling-stroke" d="M715 290 C735 285 750 300 745 325 C735 355 705 365 690 350 C675 330 690 300 715 290Z M720 395 C740 390 755 405 750 430 C740 460 710 470 695 455 C680 435 695 405 720 395Z"/>
<path class="k" vector-effect="non-scaling-stroke" d="M710 90 L745 70 L930 160 L905 185 Z M710 90 L715 105 L905 195 L905 185"/>
<path class="k" vector-effect="non-scaling-stroke" d="M890 0 C920 20 935 60 940 120 L945 300 C960 380 985 450 1010 510 L1120 640 L1125 600 L1090 560 M1000 0 C1020 40 1030 100 1035 200 C1045 300 1070 400 1095 470 L1190 545 L1195 590 L1150 600 L1145 620"/>
<path class="k" vector-effect="non-scaling-stroke" d="M1010 510 L1120 610 M1020 505 L1130 600 M1030 500 L1140 595"/>
<path class="k" vector-effect="non-scaling-stroke" d="M1035 100 L1050 95 M940 120 L1010 135"/>
<path class="k" vector-effect="non-scaling-stroke" d="M620 555 L780 470 L1090 620 M450 695 L560 650 L590 660 L940 860 M480 700 L590 660"/>
<path class="k" vector-effect="non-scaling-stroke" d="M445 715 C560 790 680 860 740 960 L750 985 M470 705 C580 775 700 850 755 950"/>
<path class="k" vector-effect="non-scaling-stroke" d="M280 850 L420 780 L700 960 M290 880 C380 920 460 980 485 1060 L490 1085 M300 870 C390 910 470 960 495 1050"/>
<path class="k" vector-effect="non-scaling-stroke" d="M750 985 C820 960 900 930 940 890 C960 850 990 800 1030 780 L1328 640"/>
<path class="k" vector-effect="non-scaling-stroke" d="M740 1000 L930 960 L930 1010 L700 1130 L680 1110 L700 1090 L715 1010"/>
<path class="k" vector-effect="non-scaling-stroke" d="M1160 240 L1200 270 L1328 210 M1170 330 L1328 430 M1040 300 L1170 330 L1328 260"/>
<path class="k" vector-effect="non-scaling-stroke" d="M940 960 L1328 700"/>
<path class="k" vector-effect="non-scaling-stroke" d="M490 1085 L600 1050 L600 960 M530 1010 L580 1040 L585 1190 L510 1210 L505 1120 M580 1190 L520 1150 M430 1170 C440 1200 460 1230 480 1230 L590 1195"/>
<path class="k" vector-effect="non-scaling-stroke" d="M300 1150 L295 1185 L430 1170 M310 960 L360 940 L365 965 L320 985 M600 1050 L690 1000"/>
</g>
<g transform="translate(270 890) scale(0.12801)">
<path class="w" vector-effect="non-scaling-stroke" d="M0 0 L990 0 L940 140 L700 320 L590 440 L585 520 L380 670 L230 670 L0 800 Z"/>
<path class="k" vector-effect="non-scaling-stroke" d="M0 800 L230 670 C280 660 320 680 350 680 L440 620 L585 520 L590 440 L530 415"/>
<path class="k" vector-effect="non-scaling-stroke" d="M0 690 L280 530 L330 555 L530 430 L530 395 M0 700 L285 540"/>
<path class="k" vector-effect="non-scaling-stroke" d="M280 530 L530 405 M285 540 L535 415"/>
<path class="k" vector-effect="non-scaling-stroke" d="M0 330 L200 230 L520 400 M0 350 L290 525"/>
<path class="k" vector-effect="non-scaling-stroke" d="M0 250 L30 270 L230 170 M230 150 L520 330 C520 360 525 390 535 410"/>
<path class="k" vector-effect="non-scaling-stroke" d="M230 150 L470 300 C510 330 525 370 530 400"/>
<path class="k" vector-effect="non-scaling-stroke" d="M340 110 L520 30 M380 140 L520 80 L780 240"/>
<path class="k" vector-effect="non-scaling-stroke" d="M550 0 C600 60 720 130 780 240 L790 260"/>
<path class="k" vector-effect="non-scaling-stroke" d="M550 10 C640 70 740 140 785 245"/>
<path class="k" vector-effect="non-scaling-stroke" d="M620 40 C720 10 850 40 940 100"/>
<path class="k" vector-effect="non-scaling-stroke" d="M700 320 L830 220 L850 240 L850 180 L880 170 L930 190 L940 140 L990 110 L1000 0"/>
<path class="k" vector-effect="non-scaling-stroke" d="M705 315 L830 230"/>
<path class="k" vector-effect="non-scaling-stroke" d="M790 260 L790 380 M800 265 L800 380"/>
<path class="k" vector-effect="non-scaling-stroke" d="M590 440 L640 420 M680 415 L710 440 L730 430"/>
</g>
<g transform="translate(270 710) scale(0.12801)">
<path class="w" vector-effect="non-scaling-stroke" d="M0 268 C150 200 400 100 600 75 C700 65 800 80 880 100 C960 110 1020 140 1040 200 L1050 400 L1040 800 L1010 1100 L990 1300 L985 1484 L0 1484 Z"/>
<path class="k" vector-effect="non-scaling-stroke" d="M0 268 C150 200 400 100 600 75 C700 65 800 80 880 100 C960 110 1020 140 1040 200 L1050 400 L1040 800 L1010 1100 L990 1300 L985 1484"/>
<path class="k" vector-effect="non-scaling-stroke" d="M880 160 C960 150 1015 170 1022 230 L1028 600 L1010 1000 L985 1300 L975 1484"/>
<path class="k" vector-effect="non-scaling-stroke" d="M0 470 C100 420 400 260 600 170 C700 130 780 100 830 95"/>
<path class="k" vector-effect="non-scaling-stroke" d="M0 600 L60 612 L400 430 L440 400 L420 370 L880 160"/>
<path class="k" vector-effect="non-scaling-stroke" d="M60 612 L420 418 M66 620 L424 426"/>
<path class="k" vector-effect="non-scaling-stroke" d="M500 340 L880 190 L890 240 L550 372 M650 290 L660 330 M770 240 L780 285 M880 190 L890 240"/>
<path class="k" vector-effect="non-scaling-stroke" d="M500 340 L550 372 L600 395 M520 345 L545 375"/>
<path class="k" vector-effect="non-scaling-stroke" d="M760 350 L840 400 M740 420 L830 480 M740 300 L760 350 L740 420"/>
<path class="k" vector-effect="non-scaling-stroke" d="M820 360 L930 410 C980 420 1000 380 970 355 C955 345 935 350 930 360"/>
<path class="k" vector-effect="non-scaling-stroke" d="M440 440 C500 420 560 400 600 395 L740 460 M590 360 L700 400 L720 420 L700 430 L600 385"/>
<path class="k" vector-effect="non-scaling-stroke" d="M180 780 C350 720 550 650 640 640 C720 635 800 650 870 675 L900 682 L930 650"/>
<path class="k" vector-effect="non-scaling-stroke" d="M180 1050 C350 990 500 920 620 885 C700 870 780 880 860 910 L890 915 L925 880"/>
<path class="k" vector-effect="non-scaling-stroke" d="M60 1370 C250 1290 450 1180 620 1135 C700 1120 770 1130 850 1160 L880 1160 L910 1130"/>
<path class="k" vector-effect="non-scaling-stroke" d="M540 1410 C650 1370 800 1380 870 1395 L900 1380 C950 1350 960 1310 930 1295 C915 1290 900 1295 890 1305 M700 1280 L870 1375"/>
<path class="k" vector-effect="non-scaling-stroke" d="M600 1440 C700 1420 800 1440 860 1470"/>
<path class="k" vector-effect="non-scaling-stroke" d="M735 528 L930 585 L945 578 C975 590 995 615 990 635 C985 645 960 648 935 645 M745 548 L925 655 M740 538 L928 648"/>
<path class="k" vector-effect="non-scaling-stroke" d="M727 770 L922 827 L937 820 C967 832 987 857 982 877 C977 887 952 890 927 887 M737 790 L917 897 M732 780 L920 890"/>
<path class="k" vector-effect="non-scaling-stroke" d="M713 1010 L908 1067 L923 1060 C953 1072 973 1097 968 1117 C963 1127 938 1130 913 1127 M723 1030 L903 1137 M718 1020 L906 1130"/>
<path class="k" vector-effect="non-scaling-stroke" d="M95 775 L165 740 L175 1270 L100 1312 Z M20 740 L95 775 L100 1312 L20 1272 Z M20 740 L110 690 L165 740"/>
</g>
<g transform="translate(120 710) scale(0.12801)">
<path class="w" vector-effect="non-scaling-stroke" d="M1328 205 L940 380 L860 425 C700 520 550 640 400 760 C250 880 120 1000 80 1110 C60 1160 55 1200 55 1260 L50 1484 L1328 1484 Z"/>
<path class="k" vector-effect="non-scaling-stroke" d="M1328 205 L940 380 M860 425 C700 520 550 640 400 760 C250 880 120 1000 80 1110 C60 1160 55 1200 55 1260 L50 1484"/>
<path class="k" vector-effect="non-scaling-stroke" d="M1328 400 C1200 460 1080 540 1000 590 C980 602 960 606 940 603 C900 595 850 588 800 588 C700 590 600 620 520 670 C450 715 415 760 410 810 C405 870 430 930 520 985"/>
<path class="k" vector-effect="non-scaling-stroke" d="M560 660 C640 622 720 608 800 607 C860 608 910 618 960 640"/>
<path class="k" vector-effect="non-scaling-stroke" d="M1000 720 C960 690 900 662 840 650 C760 640 680 650 600 685 C530 720 490 770 488 820 C488 860 510 895 545 920 L575 905"/>
<path class="k" vector-effect="non-scaling-stroke" d="M600 700 C680 665 760 658 840 668 C890 676 930 695 960 715"/>
<path class="k" vector-effect="non-scaling-stroke" d="M520 985 L520 1030 L545 1010 L548 965 L575 945 L575 905"/>
<path class="k" vector-effect="non-scaling-stroke" d="M520 1030 C400 1100 250 1180 160 1240 L105 1185 C88 1160 88 1125 100 1090 C150 1000 300 870 420 770"/>
<path class="k" vector-effect="non-scaling-stroke" d="M500 1060 C400 1120 310 1180 270 1230 C250 1260 242 1320 240 1484"/>
<path class="k" vector-effect="non-scaling-stroke" d="M225 1484 C225 1380 228 1300 250 1240 C270 1200 320 1160 380 1120"/>
<path class="k" vector-effect="non-scaling-stroke" d="M380 1120 L500 1060 M385 1130 L505 1070"/>
<path class="k" vector-effect="non-scaling-stroke" d="M1000 590 L1040 660 L1100 640 M1000 720 L1030 700 L1100 780 L1130 810 L1170 790 M1040 660 L1080 700 L1130 680 L1160 720 M1130 810 L1110 850 L1080 880 L1040 860"/>
<path class="k" vector-effect="non-scaling-stroke" d="M1000 590 C1060 600 1130 680 1170 790"/>
<path class="k" vector-effect="non-scaling-stroke" d="M1010 640 L1328 570 M1100 640 L1180 610"/>
<path class="k" vector-effect="non-scaling-stroke" d="M575 945 L830 775 L830 690 L845 680"/>
<path class="k" vector-effect="non-scaling-stroke" d="M820 840 L820 930 L780 955 L905 1015 L940 995 L815 935"/>
<path class="k" vector-effect="non-scaling-stroke" d="M430 1310 L820 1090 L820 1300"/>
<path class="k" vector-effect="non-scaling-stroke" d="M960 1210 L960 1215"/>
<path class="k" vector-effect="non-scaling-stroke" d="M290 1290 L400 1340 M270 1340 L390 1400 M290 1290 L270 1340"/>
<path class="k" vector-effect="non-scaling-stroke" d="M330 1180 L380 1200 L350 1240 M300 1240 L360 1270 L340 1300 M270 1380 L320 1400 M260 1430 L310 1450"/>
<path class="k" vector-effect="non-scaling-stroke" d="M1190 740 L1285 695 L1328 715 M1190 740 L1190 1260 L1260 1305 L1260 800 L1328 770 M1260 1305 L1328 1275 M1190 740 L1260 800"/>
<path class="k" vector-effect="non-scaling-stroke" d="M870 1080 L870 1400 C900 1430 920 1460 925 1484 M850 1090 L850 1380 C880 1420 900 1450 905 1484 M890 1150 L890 1340 M870 1080 L905 1075 L905 1150"/>
<path class="k" vector-effect="non-scaling-stroke" d="M985 1220 L1190 1130 M740 1484 L750 1380 L850 1320"/>
<path class="k" vector-effect="non-scaling-stroke" d="M960 1290 C990 1320 1000 1380 1010 1484 M985 1300 C1000 1340 1010 1400 1020 1440"/>
</g>
<g transform="translate(115 840) scale(0.14577)">
<path class="k" vector-effect="non-scaling-stroke" d="M90 260 C120 265 150 285 160 320 L168 425"/>
<path class="k" vector-effect="non-scaling-stroke" d="M100 298 C125 308 140 325 145 355 L151 435"/>
<path class="k" vector-effect="non-scaling-stroke" d="M90 260 C77 310 79 390 93 445"/>
<path class="k" vector-effect="non-scaling-stroke" d="M90 470 C120 475 150 495 160 530 L168 635"/>
<path class="k" vector-effect="non-scaling-stroke" d="M100 508 C125 518 140 535 145 565 L151 645"/>
<path class="k" vector-effect="non-scaling-stroke" d="M90 470 C77 520 79 600 93 655"/>
<path class="k" vector-effect="non-scaling-stroke" d="M95 690 C125 695 155 715 165 750 L173 855"/>
<path class="k" vector-effect="non-scaling-stroke" d="M105 728 C130 738 145 755 150 785 L156 865"/>
<path class="k" vector-effect="non-scaling-stroke" d="M95 690 C82 740 84 820 98 875"/>
<path class="k" vector-effect="non-scaling-stroke" d="M110 900 C140 905 170 925 180 960 L188 1065"/>
<path class="k" vector-effect="non-scaling-stroke" d="M120 938 C145 948 160 965 165 995 L171 1075"/>
<path class="k" vector-effect="non-scaling-stroke" d="M110 900 C97 950 99 1030 113 1085"/>
<path class="k" vector-effect="non-scaling-stroke" d="M135 1090 C165 1095 195 1115 205 1150 L213 1255"/>
<path class="k" vector-effect="non-scaling-stroke" d="M145 1128 C170 1138 185 1155 190 1185 L196 1265"/>
<path class="k" vector-effect="non-scaling-stroke" d="M135 1090 C122 1140 124 1220 138 1275"/>
</g>
<g transform="translate(190 790) scale(0.12801)">
<path class="w" vector-effect="non-scaling-stroke" d="M405 175 L505 175 L505 235 L560 255 L585 215 L640 185 L640 600 L405 600 Z"/>
<path class="k" vector-effect="non-scaling-stroke" d="M410 180 L410 590 M410 180 L500 180 L500 230 L560 250 L580 210 L640 180 M430 200 L430 300 L490 290 L500 230 M430 300 L412 380 L460 400 L490 330 L490 290"/>
<path class="k" vector-effect="non-scaling-stroke" d="M440 590 L630 510 L630 250"/>
<path class="w" vector-effect="non-scaling-stroke" d="M228 300 L268 305 L405 365 L405 415 L365 415 L232 352 Z"/>
<path class="k" vector-effect="non-scaling-stroke" d="M235 335 L265 310 L400 370 L370 400 Z M235 335 L240 350 L370 410 L370 400"/>
<path class="w" vector-effect="non-scaling-stroke" d="M160 845 L205 845 L385 935 L385 985 L345 985 L165 897 Z"/>
<path class="k" vector-effect="non-scaling-stroke" d="M165 880 L200 850 L380 940 L350 970 Z M165 880 L170 895 L350 980 L350 970"/>
<path class="k" vector-effect="non-scaling-stroke" d="M410 670 C420 660 440 690 445 720 C435 730 415 700 410 670Z"/>
</g>
<ellipse class="kf" cx="174.4" cy="885.4" rx="2.4" ry="3.600" transform="rotate(-30 174.4 885.4)"/>
</g>

<g id="foam">
<g transform="translate(500 880) scale(0.21084)">
<path class="kf" vector-effect="non-scaling-stroke" d="M 357 60 L 387 35 L 477 85 C 502 160 562 260 652 330 C 692 355 732 370 772 385 L 892 450 L 912 500 L 962 495 L 962 455 L 992 430 L 1012 440 L 1007 560 C 1002 600 982 630 952 640 L 712 520 L 707 460 L 692 450 L 682 490 L 442 355 C 432 310 412 260 357 220 Z"/>
<path class="k" vector-effect="non-scaling-stroke" d="M 357 60 L 452 110 C 477 180 537 280 622 350 C 662 375 702 390 742 400 L 862 470 L 882 520 L 912 530 L 912 500 M 452 110 L 477 85 M 962 495 L 912 510"/>
<path class="k" vector-effect="non-scaling-stroke" d="M 962 455 L 982 465 L 1012 440 M 982 465 L 977 600 C 972 620 962 635 952 640"/>
<path class="kf" vector-effect="non-scaling-stroke" d="M 85 220 L 115 195 L 205 245 C 230 320 290 420 380 490 C 420 515 460 530 500 545 L 620 610 L 640 660 L 690 655 L 690 615 L 720 590 L 740 600 L 735 720 C 730 760 710 790 680 800 L 440 680 L 435 620 L 420 610 L 410 650 L 170 515 C 160 470 140 420 85 380 Z"/>
<path class="k" vector-effect="non-scaling-stroke" d="M 85 220 L 180 270 C 205 340 265 440 350 510 C 390 535 430 550 470 560 L 590 630 L 610 680 L 640 690 L 640 660 M 180 270 L 205 245 M 690 655 L 640 670"/>
<path class="k" vector-effect="non-scaling-stroke" d="M 690 615 L 710 625 L 740 600 M 710 625 L 705 760 C 700 780 690 795 680 800"/>
<path class="kf" vector-effect="non-scaling-stroke" d="M1005 245 L1090 195 L1090 165 L1160 122 L1240 160 L1235 230 L1210 345 L1115 398 L1005 330 Z"/>
<path class="k" vector-effect="non-scaling-stroke" d="M1005 245 L1115 300 L1115 398 M1115 300 L1190 225 L1190 190 L1235 165 M1090 195 L1135 205 L1190 190 M1090 165 L1130 150 L1180 170 L1190 190 M1130 150 L1160 122"/>
</g>
<g transform="translate(390 880) scale(0.15060)">
<path class="kf" vector-effect="non-scaling-stroke" d="M130 185 L235 150 L435 240 L435 270 L385 295 L340 275 L330 375 L330 570 C285 620 268 690 275 760 C290 880 350 980 440 1080 L480 1130 L480 1275 L435 1305 L240 1190 L235 1130 C215 1080 180 1030 135 990 L130 625 L185 625 L190 595 L150 570 L130 575 Z"/>
<path class="k" vector-effect="non-scaling-stroke" d="M135 185 L385 265 L385 295 M385 265 L435 240"/>
<path class="k" vector-effect="non-scaling-stroke" d="M300 265 L290 310 L250 315 L255 380 L285 395 L285 580 C250 620 238 680 240 740 C245 850 300 960 360 1040 L435 1160 L435 1305 M435 1160 L480 1130"/>
<path class="k" vector-effect="non-scaling-stroke" d="M300 265 L340 275 M290 310 L330 330 M255 380 L300 360 M150 570 L150 600 L185 625"/>
<path class="kf" vector-effect="non-scaling-stroke" d="M630 1045 L820 930 L880 960 L1020 880 L1030 850 L1185 925 L1190 1045 L780 1285 L625 1205 Z"/>
<path class="k" vector-effect="non-scaling-stroke" d="M630 1045 L775 1115 L780 1285 M775 1115 L945 1020"/>
<path class="k" vector-effect="non-scaling-stroke" d="M880 960 L915 985 C930 1000 945 1020 960 1050 L970 1095 L1165 985 L1165 915 M915 985 L1020 925 L1160 990 M1020 880 L1020 925 M1030 850 L1035 870 L1175 940 L1185 925 M1165 915 L1175 940"/>
<path class="k" vector-effect="non-scaling-stroke" d="M820 930 L910 1000 M900 985 L945 1040"/>
</g>
</g>

<g id="housingB">
<clipPath id="c1"><rect x="63" y="63" width="1337" height="837"/></clipPath>
<g transform="translate(590 1270) scale(0.15813)" clip-path="url(#c1)">
<path class="w" vector-effect="non-scaling-stroke" d="M0 0 L1070 0 C980 80 850 180 700 280 C450 440 200 560 0 600 Z"/>
<path class="k" vector-effect="non-scaling-stroke" d="M0 600 C200 560 450 440 700 280 C850 180 980 80 1070 0"/>
<path class="k" vector-effect="non-scaling-stroke" d="M0 330 C30 400 100 470 200 475 C320 470 430 350 480 200 C500 130 520 90 560 60"/>
<path class="k" vector-effect="non-scaling-stroke" d="M80 330 C100 380 160 420 230 415 C330 400 420 300 465 110 M120 320 C140 380 180 410 225 410 M200 410 C300 380 380 300 430 200 M215 402 C310 372 390 295 440 190"/>
<path class="k" vector-effect="non-scaling-stroke" d="M0 50 C150 120 300 160 330 175 L340 150 L390 100 L470 110 M0 130 C100 170 200 200 300 200 L320 140"/>
<path class="k" vector-effect="non-scaling-stroke" d="M60 150 L70 250 L0 290 M70 170 L215 180 L250 215 L230 240 L200 410 M250 215 C300 230 330 270 330 320 C330 360 310 390 280 400"/>
<path class="k" style="stroke-width:1.6" vector-effect="non-scaling-stroke" d="M0 310 L40 300 L80 325 L125 305"/>
<path class="k" style="stroke-width:1.6" vector-effect="non-scaling-stroke" d="M460 100 L600 35"/>
<path class="k" vector-effect="non-scaling-stroke" d="M670 0 L670 130 M720 0 L720 100 M765 0 L765 70"/>
<path class="k" vector-effect="non-scaling-stroke" d="M330 175 L350 160 L360 130 L400 120 L420 90"/>
</g>
<clipPath id="c2"><rect x="-100" y="63" width="1365" height="837"/></clipPath>
<g transform="translate(400 1270) scale(0.15813)" clip-path="url(#c2)">
<path class="w" vector-effect="non-scaling-stroke" d="M0 0 L60 0 C90 60 130 110 200 140 L450 320 C520 380 600 440 700 520 L900 640 C960 670 1040 660 1110 630 L1328 560 L1328 0 Z"/>
<path class="k" vector-effect="non-scaling-stroke" d="M60 0 C90 60 130 110 200 140 L450 320 M900 640 C960 670 1040 660 1110 630 L1328 560"/>
<path class="k" vector-effect="non-scaling-stroke" d="M180 80 L185 120"/>
<path class="k" style="stroke-width:1.6" vector-effect="non-scaling-stroke" d="M250 0 L800 300 C850 330 900 370 1000 380 C1100 375 1180 330 1250 290"/>
<path class="k" vector-effect="non-scaling-stroke" d="M290 0 L810 285 C850 310 900 340 960 350 M330 0 L830 290 C810 260 790 240 760 225 L400 0"/>
<path class="k" vector-effect="non-scaling-stroke" d="M630 130 L830 0 M850 10 L1010 95"/>
<path class="k" vector-effect="non-scaling-stroke" d="M797 205 C797 180 873 180 873 205 C873 230 797 230 797 205Z M877 150 C877 125 953 125 953 150 C953 175 877 175 877 150Z"/>
<path class="k" vector-effect="non-scaling-stroke" d="M915 240 L915 330 M990 240 L990 300 M915 232 C915 212 990 212 990 232 C990 252 915 252 915 232Z M930 232 C930 222 975 222 975 232 C975 242 930 242 930 232Z"/>
<path class="k" vector-effect="non-scaling-stroke" d="M1110 80 L1110 160 L1250 230 L1260 150 M1110 80 L1170 50 M830 260 L900 230"/>
<path class="k" vector-effect="non-scaling-stroke" d="M940 340 C960 310 1000 300 1050 290 L1200 265 L1240 300 L1290 310 L1328 290 M940 400 L1050 390"/>
<path class="k" style="stroke-width:1.6" vector-effect="non-scaling-stroke" d="M1200 270 L1240 305 L1290 315 L1328 295"/>
<path class="k" vector-effect="non-scaling-stroke" d="M1230 330 C1240 380 1280 420 1328 440 M1280 160 L1280 260 M1250 150 C1250 200 1230 240 1200 265"/>
</g>
<clipPath id="c3"><rect x="-100" y="-100" width="1395" height="1295"/></clipPath>
<g transform="translate(400 1100) scale(0.15060)" clip-path="url(#c3)">
<path class="w" vector-effect="non-scaling-stroke" d="M50 950 L210 800 L175 740 L175 660 L250 600 L345 650 L350 730 L470 640 C520 600 540 585 560 590 C590 600 620 610 650 590 L740 530 L900 430 L1010 360 L1020 310 L1070 285 L1130 260 L1220 215 L1215 130 L1170 145 L1165 80 L1250 40 L1328 40 L1328 1262 L100 1262 C60 1150 45 1050 50 950 Z"/>
<path class="k" vector-effect="non-scaling-stroke" d="M175 660 L250 600 L345 650 L350 730 M175 660 L280 700 L275 780 L210 800 M175 660 L170 735 C185 755 205 745 205 720 C205 705 225 700 240 715 L240 790 M280 700 L345 650"/>
<path class="k" vector-effect="non-scaling-stroke" d="M350 730 L470 640 C520 600 540 585 560 590 C590 600 620 610 650 590 L740 530 L900 430 L1010 360 L1020 310 L1070 285 M1130 260 L1220 215 L1215 130 L1170 145 L1165 80 L1250 40"/>
<path class="k" vector-effect="non-scaling-stroke" d="M355 715 L480 625 C520 595 545 580 565 582 C595 590 625 598 650 578 L735 520 L895 420 L1000 352"/>
<path class="k" vector-effect="non-scaling-stroke" d="M1170 145 C1180 120 1215 125 1215 160 C1215 180 1195 185 1190 175"/>
<path class="k" vector-effect="non-scaling-stroke" d="M50 950 L210 800 L275 780 M60 965 L215 815 M50 950 C45 1050 60 1150 100 1262"/>
<path class="k" vector-effect="non-scaling-stroke" d="M465 640 L470 1060 L535 1095 L520 660 C515 640 500 630 485 635 Z M492 640 L540 1090"/>
<path class="k" vector-effect="non-scaling-stroke" d="M735 530 L745 960 L780 985 L775 520 M762 525 L768 975"/>
<path class="k" vector-effect="non-scaling-stroke" d="M905 430 L915 880 L945 895 L940 420"/>
<path class="k" vector-effect="non-scaling-stroke" d="M540 1000 C600 1030 680 1010 745 960 M390 1090 L470 1045"/>
<path class="k" vector-effect="non-scaling-stroke" d="M660 1262 L870 1130 L1060 1230 M780 870 C830 950 860 1050 870 1130"/>
<path class="k" vector-effect="non-scaling-stroke" d="M150 1000 L180 970 L640 1250 M150 1000 L620 1262"/>
<path class="k" style="stroke-width:1.6" vector-effect="non-scaling-stroke" d="M60 985 L130 1045 L506 1262"/>
<path class="k" vector-effect="non-scaling-stroke" d="M1010 720 L1040 700 L1070 760 M1010 720 L1020 860 L1060 880 M1020 800 L1060 820 M1040 330 L1060 700"/>
<path class="k" vector-effect="non-scaling-stroke" d="M840 800 L880 860 L880 1000 L850 960 Z M960 760 L1000 830 L1000 900 M850 930 C880 930 910 960 920 1000 M930 900 C960 880 1000 900 1020 950 L1040 1000 M920 1000 L1060 1140"/>
<path class="k" vector-effect="non-scaling-stroke" d="M1140 270 L1175 670 L1215 700"/>
<path class="k" vector-effect="non-scaling-stroke" d="M1180 470 L1195 680"/>
<path class="k" vector-effect="non-scaling-stroke" d="M1130 860 L1200 900 M1150 820 L1190 890 L1220 870 M1130 930 L1220 1020 M1140 960 L1210 1030 M1130 1090 L1230 1140 M1130 1180 L1200 1262 M1280 620 L1328 660 M1290 860 C1290 900 1300 940 1328 960"/>
<path class="k" style="stroke-width:1.6" vector-effect="non-scaling-stroke" d="M1290 1000 L1328 1020 M1270 1080 L1328 1110 M1270 1180 L1328 1200"/>
<path class="k" vector-effect="non-scaling-stroke" d="M60 990 C70 1100 100 1200 150 1262"/>
</g>
<clipPath id="c4"><rect x="32" y="-100" width="1368" height="1238"/></clipPath>
<g transform="translate(590 1100) scale(0.15813)" clip-path="url(#c4)">
<path class="w" vector-effect="non-scaling-stroke" d="M0 0 L310 45 L380 50 L420 40 L520 70 L600 120 L1100 400 C1180 440 1250 490 1290 520 C1320 540 1320 580 1290 610 C1270 700 1250 800 1200 900 C1150 1000 1050 1100 950 1202 L0 1202 Z"/>
<path class="k" vector-effect="non-scaling-stroke" d="M10 30 L70 60 L90 150 L210 90 L260 60 L270 40 L310 45 M95 160 L215 100"/>
<path class="k" vector-effect="non-scaling-stroke" d="M265 105 L300 85 L325 90 L325 460 L265 500 Z M300 85 L300 110"/>
<path class="k" vector-effect="non-scaling-stroke" d="M15 540 L260 390 M15 620 C40 640 70 650 100 700 L130 730 L160 715 L200 780 C240 770 280 765 325 768 M15 740 C100 780 200 830 325 880"/>
<path class="k" vector-effect="non-scaling-stroke" d="M10 615 C20 600 50 620 60 635 C50 645 20 630 10 615Z M65 580 C75 565 105 585 115 600 C105 610 75 595 65 580Z M115 540 C125 525 155 545 165 560 C155 570 125 555 115 540Z"/>
<path class="k" vector-effect="non-scaling-stroke" d="M15 740 L15 900 M60 770 L55 880 L15 900"/>
<path class="k" vector-effect="non-scaling-stroke" d="M15 930 C150 1000 300 1050 450 1060 C520 1060 570 1040 620 1010 M15 1010 C150 1080 300 1120 480 1120 M15 1110 C120 1150 250 1180 400 1185"/>
<path class="k" vector-effect="non-scaling-stroke" d="M380 50 L420 40 L440 90 M385 60 L390 330 M440 90 C460 60 500 50 520 70 L520 150 M520 80 L545 85 L545 160 M600 120 L1100 400 C1180 440 1250 490 1290 520 M610 180 L1090 445"/>
<path class="k" vector-effect="non-scaling-stroke" d="M392 70 L396 330"/>
<path class="k" vector-effect="non-scaling-stroke" d="M680 230 C670 200 680 175 700 170 L700 235 M830 305 C820 275 830 250 850 245 L850 310 M935 360 C925 330 935 305 955 300 L955 365 M1080 445 C1070 415 1080 390 1100 385 L1100 450 M1100 400 C1150 420 1180 450 1190 490"/>
<path class="k" vector-effect="non-scaling-stroke" d="M480 210 C488 270 468 330 450 390 L436 384 C452 330 472 270 468 214Z"/>
<path class="k" vector-effect="non-scaling-stroke" d="M540 230 C548 290 518 360 500 420 L486 414 C502 360 532 290 528 234Z"/>
<path class="k" vector-effect="non-scaling-stroke" d="M640 290 C648 350 618 410 600 470 L586 464 C602 410 632 350 628 294Z"/>
<path class="k" vector-effect="non-scaling-stroke" d="M690 310 C698 370 673 440 655 500 L641 494 C657 440 682 370 678 314Z"/>
<path class="k" vector-effect="non-scaling-stroke" d="M745 340 C753 400 728 470 710 530 L696 524 C712 470 737 400 733 344Z"/>
<path class="k" vector-effect="non-scaling-stroke" d="M800 365 C808 425 783 495 765 555 L751 549 C767 495 792 425 788 369Z"/>
<path class="k" vector-effect="non-scaling-stroke" d="M850 390 C858 450 833 525 815 585 L801 579 C817 525 842 450 838 394Z"/>
<path class="k" vector-effect="non-scaling-stroke" d="M900 420 C908 480 883 550 865 610 L851 604 C867 550 892 480 888 424Z"/>
<path class="k" vector-effect="non-scaling-stroke" d="M950 445 C958 505 933 580 915 640 L901 634 C917 580 942 505 938 449Z"/>
<path class="k" vector-effect="non-scaling-stroke" d="M1000 475 C1008 535 988 600 970 660 L956 654 C972 600 992 535 988 479Z"/>
<path class="k" vector-effect="non-scaling-stroke" d="M380 430 L560 510 M600 540 L980 740 M380 480 L545 555 M980 740 L980 640"/>
<path class="k" vector-effect="non-scaling-stroke" d="M1190 490 C1220 500 1240 530 1230 570 L600 960 L540 1000 M1230 530 L1280 520"/>
<path class="k" vector-effect="non-scaling-stroke" d="M1005 560 C1005 540 1095 540 1095 560 L1095 690 C1095 710 1005 710 1005 690 Z M1005 560 C1005 580 1095 580 1095 560 M1045 500 L1045 545 M1060 500 L1060 545 M1045 500 L1060 500 M990 700 C990 730 1100 730 1100 695"/>
<path class="k" vector-effect="non-scaling-stroke" d="M400 790 C400 680 430 580 470 530 M430 800 C430 690 460 590 500 545 M460 810 C470 700 490 610 530 570 M490 820 C500 720 520 640 545 600 M400 790 L420 810 L430 800 M460 810 L480 830 L490 820 M520 830 L545 700"/>
<path class="k" vector-effect="non-scaling-stroke" d="M610 690 L700 610 L730 625 L640 705 Z M650 710 L740 630 L770 645 L680 725 Z M690 730 L780 650 L810 665 L720 745 Z M610 690 L720 760 L850 690 L760 630 M720 760 L720 900 M630 720 L630 930 M850 690 L850 760 M690 800 L690 900"/>
<path class="k" vector-effect="non-scaling-stroke" d="M615 690 L700 615 M655 712 L740 636 M695 732 L780 656"/>
<path class="k" vector-effect="non-scaling-stroke" d="M760 900 C770 820 810 760 870 730 M790 910 C800 830 840 775 900 745 M840 890 C850 830 880 790 930 765 M870 880 C880 840 900 810 950 785 M850 760 L980 740"/>
<path class="k" vector-effect="non-scaling-stroke" d="M390 910 L520 830 L545 840 M390 910 L440 940 L560 990 L590 975 M420 920 L470 945 M470 900 L470 950"/>
<path class="k" vector-effect="non-scaling-stroke" d="M1295 614 C1285 710 1260 800 1205 900 C1150 1000 1050 1100 950 1202 M670 1060 L680 1202 M720 1030 L720 1180 M765 1000 L765 1150"/>
<path class="k" vector-effect="non-scaling-stroke" d="M600 600 L620 620 L610 640"/>
<path class="w" vector-effect="non-scaling-stroke" d="M1272 517 C1290 530 1292 545 1280 560 L907 820 L696 971 L560 1060 L545 1120 L632 1071 L918 911 L1295 614 C1318 585 1320 545 1285 520 Z"/>
<path class="k" vector-effect="non-scaling-stroke" d="M1272 517 C1290 530 1292 545 1280 560 L907 820 L696 971 L560 1060"/>
<path class="k" vector-effect="non-scaling-stroke" d="M1285 520 C1320 545 1318 585 1295 614 L918 911 L632 1071 L545 1120"/>
<path class="k" style="stroke-width:2.4" vector-effect="non-scaling-stroke" d="M1306 606 L918 911 L905 905"/>
<path class="k" vector-effect="non-scaling-stroke" d="M1290 596 L925 886"/>
</g>
<clipPath id="c5"><rect x="330" y="100" width="900" height="900"/></clipPath>
<g transform="translate(520 1180) scale(0.13554)" clip-path="url(#c5)">
<path class="w" vector-effect="non-scaling-stroke" d="M330 100 L1230 100 L1230 1000 L330 1000 Z"/>
<path class="k" vector-effect="non-scaling-stroke" d="M540 290 C620 340 720 400 830 470 C920 520 1050 570 1200 590 L1240 580"/>
<path class="k" style="stroke-width:1.6" vector-effect="non-scaling-stroke" d="M560 320 C640 370 740 430 850 500 C950 550 1060 590 1190 612"/>
<path class="k" vector-effect="non-scaling-stroke" d="M530 90 C560 170 620 260 700 320 C760 360 830 410 890 440 M545 100 C575 175 632 255 705 305"/>
<path class="k" vector-effect="non-scaling-stroke" d="M640 250 L690 240 L720 290 C760 310 820 310 890 305 M640 250 L640 330 M690 240 L700 270"/>
<path class="k" style="stroke-width:1.6" vector-effect="non-scaling-stroke" d="M545 490 C640 560 760 640 880 690 C960 720 1020 730 1080 720"/>
<path class="k" vector-effect="non-scaling-stroke" d="M1080 720 L1130 650 L1250 580 M545 470 C640 540 760 620 880 672 C950 700 1010 712 1060 706"/>
<path class="k" style="stroke-width:1.6" vector-effect="non-scaling-stroke" d="M530 590 C640 660 760 740 900 780 C960 790 1000 780 1020 760"/>
<path class="k" style="stroke-width:1.6" vector-effect="non-scaling-stroke" d="M530 720 C640 790 760 830 900 850"/>
<path class="k" vector-effect="non-scaling-stroke" d="M900 850 L910 800 L950 790 L960 770 L1000 775 L1020 760 L1060 760 L1060 720 M880 860 L880 830 L910 830"/>
<path class="k" vector-effect="non-scaling-stroke" d="M560 310 C545 320 540 340 545 360 L545 480 L585 455 L585 330 Z"/>
<path class="k" style="stroke-width:1.6" vector-effect="non-scaling-stroke" d="M370 180 L460 240 M370 350 L470 420 M370 450 L470 520 M370 620 L470 690 M370 720 L470 780"/>
<path class="k" vector-effect="non-scaling-stroke" d="M400 360 L460 400 L440 430 M400 360 L430 330 M380 260 L470 330"/>
<path class="k" vector-effect="non-scaling-stroke" d="M420 0 L430 160 L470 200"/>
<path class="k" vector-effect="non-scaling-stroke" d="M430 0 L440 150"/>
<path class="k" vector-effect="non-scaling-stroke" d="M370 870 L420 850 L560 900 C575 880 580 860 580 840 L600 840 L600 950 L780 900 M380 760 L370 820 M400 750 L400 850"/>
<path class="k" vector-effect="non-scaling-stroke" d="M780 900 C840 920 880 960 900 1040 L905 1107 M780 900 L800 880 L850 860 L880 860"/>
<path class="k" vector-effect="non-scaling-stroke" d="M1050 760 C1040 900 960 1040 860 1107 M1080 740 C1080 900 1000 1040 900 1107 M1065 750 C1060 900 980 1040 880 1107"/>
<path class="k" style="stroke-width:1.6" vector-effect="non-scaling-stroke" d="M1100 720 L1220 700"/>
<path class="k" vector-effect="non-scaling-stroke" d="M1130 650 C1120 680 1110 700 1100 720"/>
<path class="k" vector-effect="non-scaling-stroke" d="M960 290 C960 200 990 100 1040 30 M1000 300 C1000 210 1030 110 1080 40 M1040 320 C1045 230 1070 130 1120 60 M1080 330 C1090 240 1110 150 1150 90 M960 290 L990 350 L1000 300 M1040 320 L1060 370 L1080 330"/>
<path class="k" style="stroke-width:1.6" vector-effect="non-scaling-stroke" d="M1135 380 L1150 200"/>
<path class="k" vector-effect="non-scaling-stroke" d="M970 480 L1130 380 L1170 390 M970 480 L1040 530 L1200 590 M1070 440 L1070 540"/>
<path class="k" vector-effect="non-scaling-stroke" d="M540 130 C550 110 590 135 595 150 C585 165 545 150 540 130Z M595 90 C605 70 645 95 650 110 C640 125 600 110 595 90Z M655 50 C665 30 705 55 710 70 C700 85 660 70 655 50Z"/>
<path class="k" vector-effect="non-scaling-stroke" d="M520 30 L640 0"/>
</g>
<clipPath id="c6"><rect x="0" y="0" width="1328" height="1217"/></clipPath>
<g transform="translate(580 1250) scale(0.09033)" clip-path="url(#c6)">
<path class="w" vector-effect="non-scaling-stroke" d="M0 0 L1328 0 L1328 1217 L0 1217 Z"/>
<path class="k" style="stroke-width:1.6" vector-effect="non-scaling-stroke" d="M180 0 C400 110 700 170 1000 130 L1220 100"/>
<path class="k" style="stroke-width:1.6" vector-effect="non-scaling-stroke" d="M140 100 C350 220 600 290 860 300 L960 290"/>
<path class="k" style="stroke-width:1.6" vector-effect="non-scaling-stroke" d="M130 300 C300 390 450 440 620 470"/>
<path class="k" style="stroke-width:1.6" vector-effect="non-scaling-stroke" d="M0 130 C40 150 80 175 110 190 M0 350 C40 375 80 395 110 410"/>
<path class="k" vector-effect="non-scaling-stroke" d="M960 295 L985 240 C1000 210 1030 190 1080 170 L1328 40 M1328 140 L1170 230"/>
<path class="k" style="stroke-width:2.4" vector-effect="non-scaling-stroke" d="M930 400 L1160 280"/>
<path class="k" vector-effect="non-scaling-stroke" d="M1290 190 L1290 440 M1275 190 L1275 440"/>
<path class="k" vector-effect="non-scaling-stroke" d="M1160 280 C1080 330 1020 420 990 540 C950 700 850 900 650 1010 C500 1080 380 1070 300 1010 C220 950 170 880 140 820"/>
<path class="k" vector-effect="non-scaling-stroke" d="M930 400 C900 560 800 780 620 920 C540 980 470 990 400 960 C350 930 330 850 325 780"/>
<path class="k" vector-effect="non-scaling-stroke" d="M900 400 C860 560 760 760 560 920 L500 945 M915 400 C880 560 780 770 590 925"/>
<path class="k" vector-effect="non-scaling-stroke" d="M215 480 L240 490 L240 660 L170 690 M240 660 L470 790 L445 930 M240 490 C330 520 450 520 490 530 L560 570 L600 560 L640 470 L700 430 M490 530 L540 580 C600 620 680 660 690 720 L695 800 M540 580 L500 640 L470 790"/>
<path class="k" style="stroke-width:2.4" vector-effect="non-scaling-stroke" d="M0 800 L130 750 L180 740 L250 790 L320 760"/>
<path class="k" vector-effect="non-scaling-stroke" d="M0 690 L110 650 L120 700 M0 780 L100 740"/>
<path class="k" vector-effect="non-scaling-stroke" d="M130 820 C160 900 210 970 290 1020 M240 800 L250 900 C260 950 280 980 300 1010 M325 780 L330 760"/>
<path class="k" vector-effect="non-scaling-stroke" d="M620 470 L640 500 L690 470 L700 430 L760 400 L790 420 L830 390 L850 360 L900 390 M920 310 L930 400 M960 295 L950 390"/>
<path class="k" vector-effect="non-scaling-stroke" d="M0 560 C80 600 150 640 180 600 L200 500 L215 480 M0 620 C60 650 100 660 120 690"/>
<path class="k" vector-effect="non-scaling-stroke" d="M270 1217 L1328 700"/>
</g>
<clipPath id="c7"><rect x="-200" y="-100" width="1528" height="1238"/></clipPath>
<g transform="translate(420 1260) scale(0.10542)" clip-path="url(#c7)">
<path class="k" vector-effect="non-scaling-stroke" d="M60 12 L64 122 C72 212 115 277 165 324"/>
<path class="k" vector-effect="non-scaling-stroke" d="M130 52 L134 162 C142 252 185 317 235 364"/>
<path class="k" vector-effect="non-scaling-stroke" d="M200 93 L204 203 C212 293 255 358 305 405"/>
<path class="k" vector-effect="non-scaling-stroke" d="M270 133 L274 243 C282 333 325 398 375 445"/>
<path class="k" vector-effect="non-scaling-stroke" d="M340 174 L344 284 C352 374 395 439 445 486"/>
<path class="k" vector-effect="non-scaling-stroke" d="M410 215 L414 325 C422 415 465 480 515 527"/>
<path class="k" vector-effect="non-scaling-stroke" d="M480 255 L484 365 C492 455 535 520 585 567"/>
<path class="k" vector-effect="non-scaling-stroke" d="M545 293 L549 403 C557 493 600 558 650 605"/>
<path class="k" vector-effect="non-scaling-stroke" d="M615 334 L619 444 C627 534 670 598 720 646"/>
<path class="k" vector-effect="non-scaling-stroke" d="M685 374 L689 484 C697 574 740 639 790 686"/>
<path class="k" vector-effect="non-scaling-stroke" d="M760 418 L764 528 C772 618 815 683 865 730"/>
<path class="k" vector-effect="non-scaling-stroke" d="M840 464 L844 574 C852 664 895 729 945 776"/>
<path class="k" vector-effect="non-scaling-stroke" d="M910 505 L914 615 C922 705 965 770 1015 817"/>
<path class="k" vector-effect="non-scaling-stroke" d="M985 548 L989 658 C997 748 1040 813 1090 860"/>
<path class="k" vector-effect="non-scaling-stroke" d="M0 230 L1070 850 C1090 900 1130 980 1180 1010"/>
<path class="k" vector-effect="non-scaling-stroke" d="M0 255 L470 560 L495 620 L545 665 L1170 1050 M470 560 L1100 930"/>
<path class="k" vector-effect="non-scaling-stroke" d="M545 665 L513 595"/>
<path class="k" vector-effect="non-scaling-stroke" d="M597 697 L565 627"/>
<path class="k" vector-effect="non-scaling-stroke" d="M649 729 L617 659"/>
<path class="k" vector-effect="non-scaling-stroke" d="M701 761 L669 691"/>
<path class="k" vector-effect="non-scaling-stroke" d="M753 793 L721 723"/>
<path class="k" vector-effect="non-scaling-stroke" d="M805 825 L773 755"/>
<path class="k" vector-effect="non-scaling-stroke" d="M857 857 L825 787"/>
<path class="k" vector-effect="non-scaling-stroke" d="M909 889 L877 819"/>
<path class="k" vector-effect="non-scaling-stroke" d="M961 921 L929 851"/>
<path class="k" vector-effect="non-scaling-stroke" d="M1013 953 L981 883"/>
<path class="k" vector-effect="non-scaling-stroke" d="M1065 985 L1033 915"/>
<path class="k" vector-effect="non-scaling-stroke" d="M1117 1017 L1085 947"/>
</g>
</g>

<!-- screws -->
<g transform="translate(550.2 1408.3) rotate(90)">
<path class="kf" style="stroke:#444" d="M0 0 L2.500 -1.800 L5 -2.400 L27 -2.400 L27 2.400 L5 2.400 L2.500 1.800 Z"/>
<path class="k" style="stroke-width:.8;stroke:#555" d="M5.500 -2.400 L7 2.400 M9 -2.400 L10.500 2.400 M12.500 -2.400 L14 2.400 M16 -2.400 L17.500 2.400 M19.500 -2.400 L21 2.400 M23 -2.400 L24.500 2.400"/>
<path class="kf" style="stroke:#444" d="M27 -4.200 C27 -5.200 30 -5.400 32.500 -5 C35 -4.300 36 -2.600 36 0 C36 2.600 35 4.300 32.500 5 C30 5.400 27 5.200 27 4.200 Z"/>
<path class="k" style="stroke:#555" d="M30 -5 C31.200 -2.600 31.200 2.600 30 5"/>
</g>
<g transform="translate(755.7 1296) rotate(90)">
<path class="kf" style="stroke:#444" d="M0 0 L2.500 -1.800 L5 -2.400 L27 -2.400 L27 2.400 L5 2.400 L2.500 1.800 Z"/>
<path class="k" style="stroke-width:.8;stroke:#555" d="M5.500 -2.400 L7 2.400 M9 -2.400 L10.500 2.400 M12.500 -2.400 L14 2.400 M16 -2.400 L17.500 2.400 M19.500 -2.400 L21 2.400 M23 -2.400 L24.500 2.400"/>
<path class="kf" style="stroke:#444" d="M27 -4.200 C27 -5.200 30 -5.400 32.500 -5 C35 -4.300 36 -2.600 36 0 C36 2.600 35 4.300 32.500 5 C30 5.400 27 5.200 27 4.200 Z"/>
<path class="k" style="stroke:#555" d="M30 -5 C31.200 -2.600 31.200 2.600 30 5"/>
</g>
<g transform="translate(1066.3 132.2) rotate(-29.5)">
<path class="kf" style="stroke:#444" d="M0 0 L2.500 -1.800 L5 -2.400 L27 -2.400 L27 2.400 L5 2.400 L2.500 1.800 Z"/>
<path class="k" style="stroke-width:.8;stroke:#555" d="M5.500 -2.400 L7 2.400 M9 -2.400 L10.500 2.400 M12.500 -2.400 L14 2.400 M16 -2.400 L17.500 2.400 M19.500 -2.400 L21 2.400 M23 -2.400 L24.500 2.400"/>
<path class="kf" style="stroke:#444" d="M27 -4.200 C27 -5.200 30 -5.400 32.500 -5 C35 -4.300 36 -2.600 36 0 C36 2.600 35 4.300 32.500 5 C30 5.400 27 5.200 27 4.200 Z"/>
<path class="k" style="stroke:#555" d="M30 -5 C31.200 -2.600 31.200 2.600 30 5"/>
</g>

<!-- dash-dot centre lines (behind parts) -->
<g class="d">
<path d="M1066 132.7 L978.8 180.9"/>
<path d="M990 259.500 L947 283.700"/>
<path d="M848 341 L651 452.5"/>
<path d="M556 505 L466 556.6"/>
<path d="M360 619.300 L343 629"/>
<path d="M669 552 L750 598.5"/>
<path d="M814.7 636.2 L841 651.4"/>
<path d="M987 736.800 L1060 778.500"/>
<path d="M1034.6 328 L1034.6 495.6 L858.9 597.2"/>
<path d="M741 666.4 L619.8 734.3 L619.8 992.7"/>
<path d="M238.7 867.4 L414.9 969.2"/>
<path d="M352.3 945.7 L352.3 961 L397.3 988"/>
<path d="M199.6 1031.9 L199.6 1053.4 L434.5 1188.5"/>
<path d="M456 1026 L483.4 1039.7"/>
<path d="M516.5 1074.5 L516.5 1145 L565.6 1119.9 L565.6 1312"/>
<path d="M588.3 1010.4 L588.3 1284.8"/>
<path d="M646.2 985.2 L646.2 1244.5"/>
<path d="M739.3 963 L739.3 1007.8 L681.4 1040.6 L681.4 1242"/>
<path d="M755.7 1275 L755.7 1294"/>
<path d="M550.8 1374.5 L550.8 1407"/>
</g>

<!-- labels and leaders -->
<g class="k" style="stroke:#444;stroke-width:.9">
<path d="M844.5 253.3 L912.5 288"/>
<path d="M531.5 362.5 L570.5 386"/>
<path d="M329.5 538.5 L371 563"/>
<path d="M977.5 624.5 L937.5 646.5"/>
<path d="M197 742 L243 766.5"/>
<path d="M783.2 1229.3 L834 1229.3"/>
</g>
<path d="M769.5 938.8 L821 938.8" style="fill:none;stroke:#b2b2b2;stroke-width:1.6"/>
<g font-size="23">
<text x="827.7" y="256">5</text>
<text x="514.1" y="365">4</text>
<text x="317.2" y="542.3">1</text>
<text x="978.2" y="629.3">1</text>
<text x="181.3" y="743.8">3</text>
<text x="825.5" y="947">2</text>
<text x="838.3" y="1238.3">3</text>
</g>
<text x="1062.5" y="119.5" font-size="18">4×</text>

</svg>
</body></html>
